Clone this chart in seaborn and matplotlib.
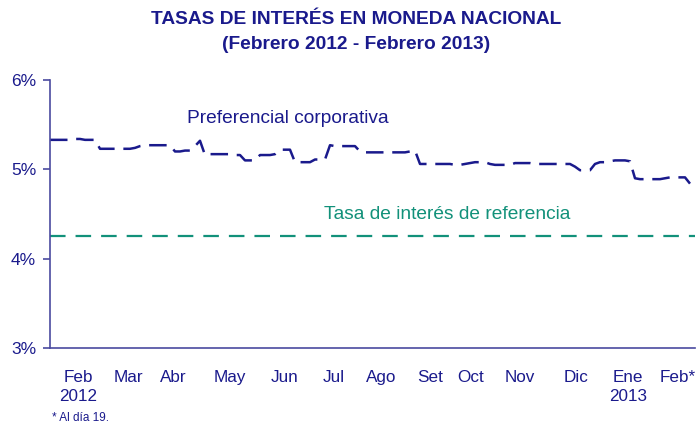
import matplotlib
matplotlib.use("Agg")
import matplotlib.pyplot as plt
import seaborn as sns
import pandas as pd
from matplotlib import font_manager

# ---- data ----
pref_corporativa = [
    5.33, 5.33, 5.33, 5.33, 5.33, 5.34, 5.34, 5.33, 5.33, 5.33,
    5.23, 5.23, 5.23, 5.23, 5.23, 5.23, 5.23, 5.24, 5.26, 5.27,
    5.27, 5.27, 5.27, 5.27, 5.27, 5.20, 5.20, 5.21, 5.21, 5.26,
    5.32, 5.16, 5.17, 5.17, 5.17, 5.17, 5.17, 5.16, 5.16, 5.10,
    5.10, 5.10, 5.16, 5.16, 5.16, 5.17, 5.22, 5.22, 5.22, 5.08,
    5.08, 5.08, 5.08, 5.11, 5.11, 5.11, 5.27, 5.26, 5.26, 5.26,
    5.26, 5.26, 5.20, 5.19, 5.19, 5.19, 5.19, 5.19, 5.19, 5.19,
    5.19, 5.19, 5.20, 5.21, 5.06, 5.06, 5.06, 5.06, 5.06, 5.06,
    5.06, 5.05, 5.05, 5.06, 5.07, 5.08, 5.08, 5.08, 5.06, 5.05,
    5.05, 5.05, 5.05, 5.07, 5.07, 5.07, 5.07, 5.06, 5.06, 5.06,
    5.06, 5.06, 5.06, 5.06, 5.06, 5.03, 4.99, 4.99, 4.99, 5.06,
    5.08, 5.08, 5.09, 5.10, 5.10, 5.10, 5.09, 4.90, 4.89, 4.89,
    4.89, 4.89, 4.89, 4.90, 4.91, 4.91, 4.91, 4.91, 4.84,
]
tasa_referencia = [4.25, 4.25]
tasa_referencia_x = [0, 129]

month_labels = ["Feb\n2012", "Mar", "Abr", "May", "Jun", "Jul", "Ago",
                "Set", "Oct", "Nov", "Dic", "Ene\n2013", "Feb*"]
month_pos = [5.6, 15.6, 24.6, 36.0, 47.0, 56.8, 66.2, 76.0, 84.2, 94.0,
             105.2, 115.6, 125.6]
y_ticks = [3, 4, 5, 6]
y_labels = ["3%", "4%", "5%", "6%"]

title = "TASAS DE INTERÉS EN MONEDA NACIONAL\n(Febrero 2012 - Febrero 2013)"
label_pref = "Preferencial corporativa"
label_ref = "Tasa de interés de referencia"
footnote = "* Al día 19."

# ---- style ----
sns.set_theme(style="white")
avail = {f.name for f in font_manager.fontManager.ttflist}
narrow = "Liberation Sans Narrow" if "Liberation Sans Narrow" in avail else "Liberation Sans"
plt.rcParams["font.family"] = ["Liberation Sans", "DejaVu Sans"]

NAVY = "#1a1a8c"
AXIS = "#4a4aa0"
TEAL = "#12917a"

df_pref = pd.DataFrame({"x": range(len(pref_corporativa)), "v": pref_corporativa})
df_ref = pd.DataFrame({"x": tasa_referencia_x, "v": tasa_referencia})

fig = plt.figure(figsize=(6.98, 4.24), dpi=100)
ax = fig.add_axes([50 / 698, 1 - 348 / 424, 645 / 698, 268 / 424])

sns.lineplot(data=df_pref, x="x", y="v", ax=ax, color=NAVY, linewidth=1.8)
ax.lines[-1].set_dashes((7, 3.5))
sns.lineplot(data=df_ref, x="x", y="v", ax=ax, color=TEAL, linewidth=1.6)
ax.lines[-1].set_dashes((7, 4.5))

ax.set_xlim(0, 129)
ax.set_ylim(3, 6)
ax.set_yticks(y_ticks)
ax.set_yticklabels(y_labels, fontsize=12.5, color=NAVY)
ax.set_xticks(month_pos)
ax.set_xticklabels(month_labels, fontsize=12.3, color=NAVY, family=narrow,
                   linespacing=1.3)
ax.set_xlabel("")
ax.set_ylabel("")

for s in ["top", "right"]:
    ax.spines[s].set_visible(False)
for s in ["left", "bottom"]:
    ax.spines[s].set_color(AXIS)
    ax.spines[s].set_linewidth(1.2)
ax.tick_params(axis="y", which="both", left=True, length=5, width=1.2,
               color=AXIS, pad=5)
ax.tick_params(axis="x", length=0, pad=16)

ax.text(0.213, 0.857, label_pref, transform=ax.transAxes, fontsize=13.8,
        color=NAVY, va="center", ha="left")
ax.text(0.425, 0.498, label_ref, transform=ax.transAxes, fontsize=13.8,
        color=TEAL, va="center", ha="left")

fig.text(356 / 698, 1 - 32 / 424, title, ha="center", va="center", fontsize=13.8,
         fontweight="bold", color=NAVY, linespacing=1.6)
fig.text(52 / 698, 1 - 418 / 424, footnote, ha="left", va="center",
         fontsize=8.5, color=NAVY)

fig.savefig("out.png", dpi=100)
